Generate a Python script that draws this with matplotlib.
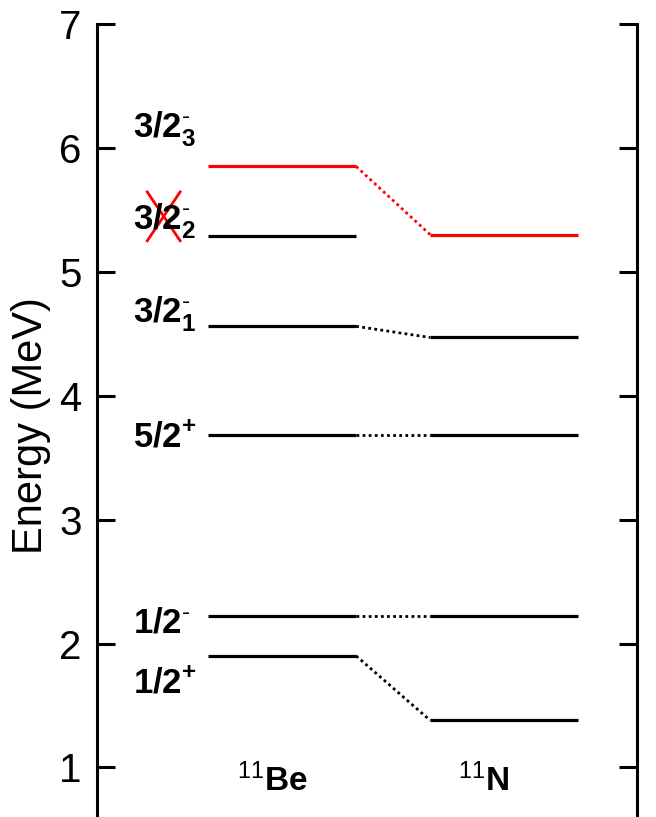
import matplotlib
matplotlib.use("Agg")
import matplotlib.pyplot as plt

plt.rcParams['font.family'] = ['Liberation Sans', 'DejaVu Sans']
plt.rcParams['mathtext.fontset'] = 'custom'
plt.rcParams['mathtext.rm'] = 'Liberation Sans'
plt.rcParams['mathtext.bf'] = 'Liberation Sans:bold'
plt.rcParams['mathtext.it'] = 'Liberation Sans:italic'

# level energies (MeV)
be_levels = [1.90, 2.22, 3.68, 4.56, 5.29, 5.85]
n_levels = [1.38, 2.22, 3.68, 4.47, None, 5.30]
level_names = [r'$\mathbf{1/2}^{\mathbf{+}}$', r'$\mathbf{1/2}^{\text{-}}$',
               r'$\mathbf{5/2}^{\mathbf{+}}$', r'$\mathbf{3/2}^{\text{-}}_{\mathbf{1}}$',
               r'$\mathbf{3/2}^{\text{-}}_{\mathbf{2}}$', r'$\mathbf{3/2}^{\text{-}}_{\mathbf{3}}$']
label_base = [1.605, 2.09, 3.59, 4.59, 5.34, 6.08]   # baseline of each label
red_level = 5          # highlighted level
nuclei = [r'$^{11}\mathbf{Be}$', r'$^{11}\mathbf{N}$']
yticks = [1, 2, 3, 4, 5, 6, 7]

be_x = (0.205, 0.48)
n_x = (0.617, 0.89)

fig = plt.figure(figsize=(6.56, 8.17), dpi=100)
ax = fig.add_axes([97 / 656, 0.0, 540 / 656, 793 / 817])
ax.set_xlim(0, 1)
ax.set_ylim(0.6, 7)

lw = 2.3
for i, (eb, en) in enumerate(zip(be_levels, n_levels)):
    c = 'red' if i == red_level else 'black'
    ax.plot(be_x, [eb, eb], color=c, lw=lw, solid_capstyle='butt')
    if en is not None:
        ax.plot(n_x, [en, en], color=c, lw=lw, solid_capstyle='butt')
        ax.plot([be_x[1], n_x[0]], [eb, en], color=c, lw=2.0, ls=(0, (1, 1.2)))
    ax.text(0.067, label_base[i], level_names[i], fontsize=25, ha='left', va='baseline')

# crossed-out 3/2-_2 label
ax.plot([0.093, 0.154], [5.645, 5.25], color='red', lw=2.0)
ax.plot([0.093, 0.154], [5.25, 5.645], color='red', lw=2.0)

ax.text(0.324, 0.805, nuclei[0], fontsize=24, ha='center', va='baseline')
ax.text(0.715, 0.805, nuclei[1], fontsize=24, ha='center', va='baseline')

ax.set_yticks(yticks)
ax.set_xticks([])
ax.tick_params(axis='y', direction='in', length=13, width=2.2, labelsize=29,
               right=True, pad=11)
for s in ['top', 'bottom']:
    ax.spines[s].set_visible(False)
for s in ['left', 'right']:
    ax.spines[s].set_linewidth(2.2)
fig.text(31 / 656, 1 - 426 / 817, 'Energy (MeV)', fontsize=30, rotation=90,
         ha='center', va='center')

fig.savefig('out.png', dpi=100)
